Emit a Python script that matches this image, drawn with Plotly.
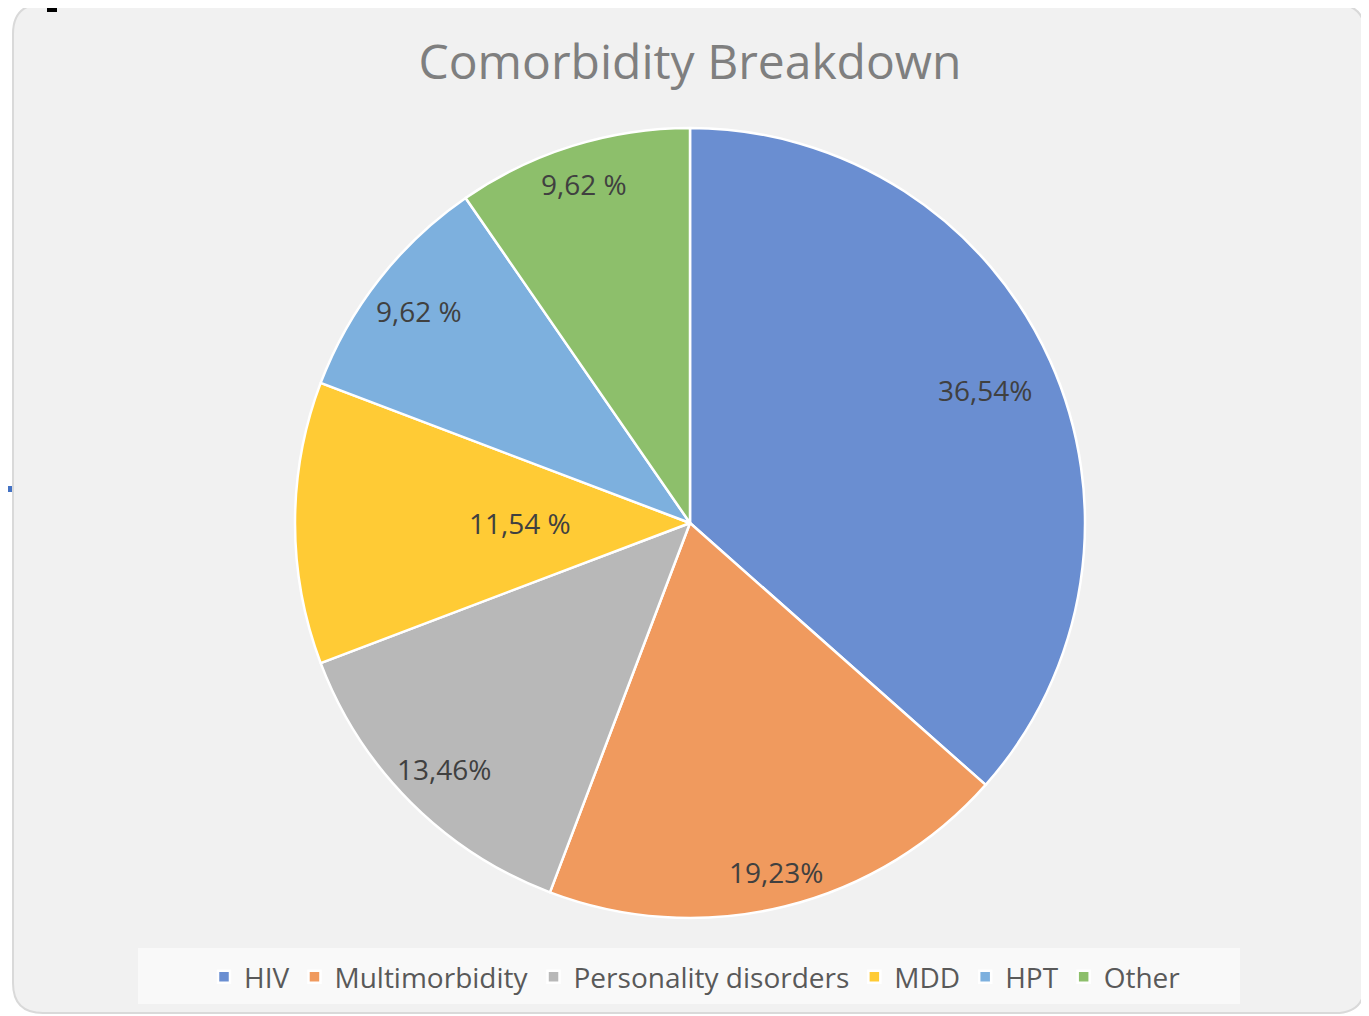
import math
import plotly.graph_objects as go

# Data
categories = ["HIV", "Multimorbidity", "Personality disorders", "MDD", "HPT", "Other"]
counts = [19, 10, 7, 6, 5, 5]
label_texts = ["36,54%", "19,23%", "13,46%", "11,54 %", "9,62 %", "9,62 %"]
colors = ["#6A8ED1", "#F09A5E", "#B8B8B8", "#FFCB35", "#7DB0DE", "#8DBF6B"]

# Styling: relative radius at which each data label sits (Excel "best fit")
label_radius = [0.82, 0.91, 0.88, 0.43, 0.87, 0.90]

W, H = 1369, 1016
OFF = 8  # page body margin of the exported HTML
FONT = "Open Sans"


def px(x):
    return (x - OFF) / W


def py(y):
    return 1 - (y - OFF) / H


CX, CY, R = 690, 523, 395

fig = go.Figure()

fig.add_trace(go.Pie(
    labels=categories,
    values=counts,
    textinfo="none",
    marker=dict(colors=colors, line=dict(color="white", width=2.5)),
    sort=False,
    direction="clockwise",
    rotation=0,
    hoverinfo="label+percent",
    domain=dict(x=[px(CX - R), px(CX + R)], y=[py(CY + R), py(CY - R)]),
))

# Data labels placed along each slice's bisector
annotations = []
total = sum(counts)
cum = 0
for val, txt, rf in zip(counts, label_texts, label_radius):
    mid = (cum + val / 2) / total * 2 * math.pi
    cum += val
    lx = CX + rf * R * math.sin(mid)
    ly = CY - rf * R * math.cos(mid)
    annotations.append(dict(
        x=px(lx), y=py(ly), xref="paper", yref="paper",
        text=txt, showarrow=False, xanchor="center", yanchor="middle",
        font=dict(family=FONT, size=28, color="#404040"),
    ))

# Chart-area background (rounded rectangle) in paper coords
x0, x1, y0, y1, r = 13, 1365, 4, 1013, 30
path = (
    f"M {px(x0 + r)} {py(y0)} L {px(x1 - r)} {py(y0)} "
    f"Q {px(x1)} {py(y0)} {px(x1)} {py(y0 + r)} "
    f"L {px(x1)} {py(y1 - r)} Q {px(x1)} {py(y1)} {px(x1 - r)} {py(y1)} "
    f"L {px(x0 + r)} {py(y1)} Q {px(x0)} {py(y1)} {px(x0)} {py(y1 - r)} "
    f"L {px(x0)} {py(y0 + r)} Q {px(x0)} {py(y0)} {px(x0 + r)} {py(y0)} Z"
)

shapes = [
    dict(type="path", xref="paper", yref="paper", path=path,
         fillcolor="#F1F1F1", line=dict(color="#D9D9D9", width=2), layer="below"),
    # legend backdrop
    dict(type="rect", xref="paper", yref="paper",
         x0=px(138), x1=px(1240), y0=py(1004), y1=py(948),
         fillcolor="rgba(255,255,255,0.55)", line=dict(width=0), layer="below"),
    # screenshot artifacts at the edges
    dict(type="rect", xref="paper", yref="paper",
         x0=px(8), x1=px(12), y0=py(492), y1=py(486),
         fillcolor="#4472C4", line=dict(width=0), layer="above"),
    dict(type="rect", xref="paper", yref="paper",
         x0=px(47), x1=px(57), y0=py(12), y1=py(8),
         fillcolor="#000000", line=dict(width=0), layer="above"),
]

fig.update_layout(
    width=W, height=H,
    margin=dict(l=0, r=0, t=0, b=0),
    paper_bgcolor="white",
    plot_bgcolor="white",
    shapes=shapes,
    annotations=annotations,
    title=dict(text="Comorbidity Breakdown", x=px(690), xanchor="center",
               y=py(62), yanchor="middle",
               font=dict(family=FONT, size=48, color="#7F7F7F")),
    showlegend=True,
    legend=dict(orientation="h", x=px(695), xanchor="center",
                y=py(977), yanchor="middle",
                font=dict(family=FONT, size=28, color="#595959"),
                bgcolor="rgba(0,0,0,0)", itemwidth=30,
                traceorder="normal"),
)

fig.write_html("out.html")
